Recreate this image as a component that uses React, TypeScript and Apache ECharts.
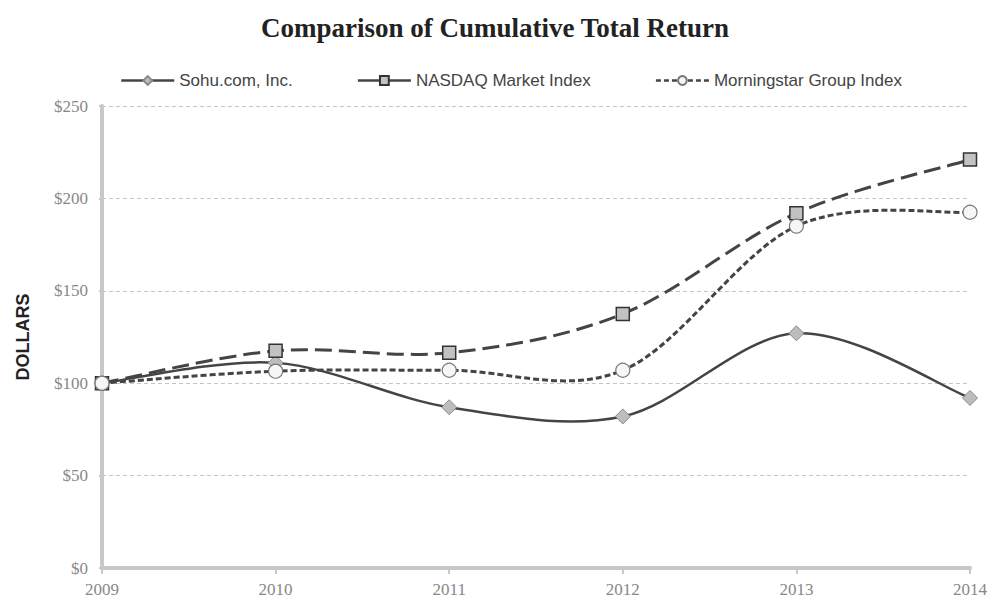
import React, { useEffect, useRef } from "react";
import * as echarts from "echarts";

const years = ["2009", "2010", "2011", "2012", "2013", "2014"];
const sohu = [100, 111, 87, 82, 127, 92];
const nasdaq = [100, 117.5, 116.5, 137.5, 192, 221];
const morningstar = [100, 106.5, 107, 107, 185, 192.5];
const yTicks = [0, 50, 100, 150, 200, 250];

const names = ["Sohu.com, Inc.", "NASDAQ Market Index", "Morningstar Group Index"];

function curveSeries(values: number[], lineStyle: any, z: number) {
  return {
    type: "custom",
    data: [[0, values[0]]],
    silent: true,
    z,
    renderItem: (params: any, api: any) => {
      const p = values.map((v, i) => api.coord([i, v]));
      const n = p.length;
      let d = `M${p[0][0]},${p[0][1]}`;
      for (let i = 0; i < n - 1; i++) {
        const p0 = p[Math.max(0, i - 1)];
        const p1 = p[i];
        const p2 = p[i + 1];
        const p3 = p[Math.min(n - 1, i + 2)];
        const c1x = p1[0] + (p2[0] - p0[0]) / 6;
        const c1y = p1[1] + (p2[1] - p0[1]) / 6;
        const c2x = p2[0] - (p3[0] - p1[0]) / 6;
        const c2y = p2[1] - (p3[1] - p1[1]) / 6;
        d += ` C${c1x},${c1y} ${c2x},${c2y} ${p2[0]},${p2[1]}`;
      }
      return {
        type: "path",
        shape: { pathData: d },
        style: { fill: "none", stroke: lineStyle.color, lineWidth: lineStyle.width, lineDash: lineStyle.dash },
      };
    },
  };
}

export default function App() {
  const ref = useRef<HTMLDivElement>(null);
  useEffect(() => {
    document.body.style.margin = "0";
    const chart = echarts.init(ref.current!, null, { renderer: "svg" });
    const serif = "'Liberation Serif', 'Times New Roman', serif";
    const sans = "'Liberation Sans', Arial, sans-serif";
    chart.setOption({
      animation: false,
      backgroundColor: "#ffffff",
      title: {
        text: "Comparison of Cumulative Total Return",
        left: "center",
        top: 9,
        textStyle: { fontFamily: serif, fontWeight: "bold", fontSize: 27, color: "#222" },
      },
      legend: {
        top: 67,
        left: 115,
        itemWidth: 53,
        itemHeight: 11,
        itemGap: 64,
        textStyle: { fontFamily: sans, fontSize: 17, color: "#444" },
        data: [
          { name: names[0], lineStyle: { opacity: 1, color: "#444", width: 2.5, type: "solid" } },
          { name: names[1], lineStyle: { opacity: 1, color: "#444", width: 2.5, type: "solid" } },
          { name: names[2], lineStyle: { opacity: 1, color: "#444", width: 2.5, type: [5, 3] } },
        ],
      },
      grid: { left: 102, right: 17, top: 106, bottom: 34 },
      xAxis: {
        type: "category",
        data: years,
        boundaryGap: false,
        axisLine: { lineStyle: { color: "#c8c8c8", width: 4 } },
        axisTick: { show: true, length: 6, lineStyle: { color: "#c8c8c8", width: 2 } },
        axisLabel: { fontFamily: serif, fontSize: 17, color: "#888", margin: 13 },
      },
      yAxis: {
        type: "value",
        min: 0,
        max: 250,
        interval: 50,
        name: "DOLLARS",
        nameLocation: "middle",
        nameRotate: 90,
        nameGap: 70,
        nameTextStyle: { fontFamily: sans, fontWeight: "bold", fontSize: 18, color: "#222", padding: [0, 0, 0, 0] },
        axisLine: { show: true, lineStyle: { color: "#c8c8c8", width: 4 } },
        axisTick: { show: true, length: 3, lineStyle: { color: "#c8c8c8", width: 2 } },
        axisLabel: {
          fontFamily: serif,
          fontSize: 17,
          color: "#888",
          margin: 14,
          formatter: (v: number) => (yTicks.includes(v) ? "$" + v : ""),
        },
        splitLine: { lineStyle: { color: "#c4c4c4", type: [4, 3], width: 1 } },
      },
      series: [
        curveSeries(sohu, { color: "#444", width: 2.5 }, 1),
        curveSeries(nasdaq, { color: "#444", width: 3, dash: [17, 7] }, 1),
        curveSeries(morningstar, { color: "#444", width: 3, dash: [6, 3] }, 1),
        {
          name: names[0],
          type: "line",
          data: sohu,
          symbol: "diamond",
          symbolSize: 15,
          lineStyle: { opacity: 0 },
          itemStyle: { color: "#bdbdbd", borderColor: "#8a8a8a", borderWidth: 1 },
          z: 2,
        },
        {
          name: names[1],
          type: "line",
          data: nasdaq,
          symbol: "rect",
          symbolSize: 13,
          lineStyle: { opacity: 0 },
          itemStyle: { color: "#c2c2c2", borderColor: "#333", borderWidth: 1.5 },
          z: 3,
        },
        {
          name: names[2],
          type: "line",
          data: morningstar,
          symbol: "circle",
          symbolSize: 14,
          lineStyle: { opacity: 0 },
          itemStyle: { color: "#f6f6f6", borderColor: "#777", borderWidth: 1.2 },
          z: 4,
        },
      ],
    });
    return () => chart.dispose();
  }, []);
  return <div ref={ref} style={{ width: 990, height: 602 }} />;
}
